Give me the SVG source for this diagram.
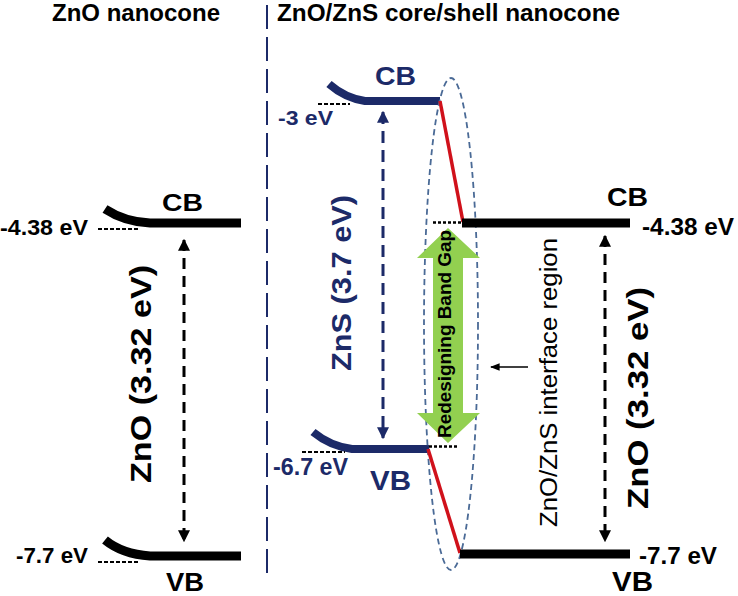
<svg xmlns="http://www.w3.org/2000/svg" width="738" height="596" viewBox="0 0 738 596">
<defs>
<style>
text{font-family:"Liberation Sans",Arial,sans-serif;font-weight:bold;fill:#000}
.nv{fill:#1c2a68}
.reg{font-weight:normal}
.bar{fill:none;stroke:#000;stroke-width:9}
.nbar{fill:none;stroke:#1c2a68;stroke-width:8}
.dash{fill:none;stroke:#000;stroke-width:2;stroke-dasharray:4 2}
.red{fill:none;stroke:#d0111b;stroke-width:3.5}
.arr{fill:none;stroke:#000;stroke-width:3;stroke-dasharray:11 7}
.narr{fill:none;stroke:#1c2a68;stroke-width:3;stroke-dasharray:12 7}
</style>
<marker id="ah" viewBox="0 0 10 10" refX="9" refY="5" markerWidth="4" markerHeight="4" orient="auto-start-reverse"><path d="M0,0 L10,5 L0,10 z" fill="#000"/></marker>
<marker id="nah" viewBox="0 0 10 10" refX="9" refY="5" markerWidth="4" markerHeight="4" orient="auto-start-reverse"><path d="M0,0 L10,5 L0,10 z" fill="#1c2a68"/></marker>
<marker id="sah" viewBox="0 0 10 10" refX="9" refY="5" markerWidth="6" markerHeight="6" orient="auto"><path d="M0,1 L10,5 L0,9 z" fill="#000"/></marker>
</defs>
<g id="titles">
<text x="52" y="21" font-size="23" textLength="168" lengthAdjust="spacingAndGlyphs">ZnO nanocone</text>
<text x="277" y="21" font-size="23" textLength="343" lengthAdjust="spacingAndGlyphs">ZnO/ZnS core/shell nanocone</text>
</g>
<g id="divider"><line x1="267" y1="5" x2="267" y2="580" stroke="#1c2a68" stroke-width="2" stroke-dasharray="24 8"/></g>
<g id="zno-left">
<path class="bar" d="M105,209 Q125,222 150,223 L241,223"/>
<path class="dash" d="M98,229 H138"/>
<text x="162" y="211" font-size="24" textLength="41" lengthAdjust="spacingAndGlyphs">CB</text>
<text x="0" y="235" font-size="22" textLength="88" lengthAdjust="spacingAndGlyphs">-4.38 eV</text>
<path class="bar" d="M105,540 Q122,554 150,556 L241,556"/>
<path class="dash" d="M98,562 H138"/>
<text x="16" y="563" font-size="22" textLength="72" lengthAdjust="spacingAndGlyphs">-7.7 eV</text>
<text x="166" y="591" font-size="26" textLength="38" lengthAdjust="spacingAndGlyphs">VB</text>
<text transform="translate(151,374) rotate(-90)" text-anchor="middle" font-size="29" textLength="218" lengthAdjust="spacingAndGlyphs">ZnO (3.32 eV)</text>
</g>
<g id="zns-shell">
<path class="nbar" d="M329,84 Q345,98 365,101 L440,101"/>
<path class="dash" d="M318,104 H350"/>
<text class="nv" x="375" y="85" font-size="26" textLength="41" lengthAdjust="spacingAndGlyphs">CB</text>
<text class="nv" x="278" y="125" font-size="20" textLength="55" lengthAdjust="spacingAndGlyphs">-3 eV</text>
<path class="nbar" d="M313,432 Q330,446 352,449 L429,449"/>
<path class="dash" d="M302,452 H345"/>
<text class="nv" x="273" y="475" font-size="23" textLength="75" lengthAdjust="spacingAndGlyphs">-6.7 eV</text>
<text class="nv" x="370" y="490" font-size="28" textLength="41" lengthAdjust="spacingAndGlyphs">VB</text>
<text class="nv" transform="translate(351,283) rotate(-90)" text-anchor="middle" font-size="27" textLength="176" lengthAdjust="spacingAndGlyphs">ZnS (3.7 eV)</text>
</g>
<g id="interface">
<ellipse cx="451" cy="324" rx="27" ry="246" fill="none" stroke="#4a6a96" stroke-width="1.8" stroke-dasharray="6 4"/>
<path class="red" d="M440,101 L463,222"/>
<path class="red" d="M428,449 L460,553"/>
<path d="M433,222.5 H461" fill="none" stroke="#000" stroke-width="2.5" stroke-dasharray="3 2"/>
<path d="M429,446.5 H457" fill="none" stroke="#000" stroke-width="2.5" stroke-dasharray="3 2"/>
<polygon points="448,228 480,258 463,258 463,413 480,413 448,443 417,413 433,413 433,258 417,258" fill="#92d050"/>
<text transform="translate(451,334) rotate(-90)" text-anchor="middle" font-size="18" textLength="208" lengthAdjust="spacingAndGlyphs">Redesigning Band Gap</text>
<text class="reg" transform="translate(557,382.5) rotate(-90)" text-anchor="middle" font-size="23" textLength="289" lengthAdjust="spacingAndGlyphs">ZnO/ZnS interface region</text>
</g>
<g id="zno-right">
<path class="bar" d="M462,223 H630"/>
<path class="bar" d="M460,554 H630"/>
<text x="607" y="206" font-size="26" textLength="41" lengthAdjust="spacingAndGlyphs">CB</text>
<text x="642" y="235" font-size="23" textLength="92" lengthAdjust="spacingAndGlyphs">-4.38 eV</text>
<text x="639" y="564" font-size="23" textLength="78" lengthAdjust="spacingAndGlyphs">-7.7 eV</text>
<text x="612" y="591" font-size="27" textLength="41" lengthAdjust="spacingAndGlyphs">VB</text>
<text transform="translate(648,398) rotate(-90)" text-anchor="middle" font-size="29" textLength="222" lengthAdjust="spacingAndGlyphs">ZnO (3.32 eV)</text>
</g>
<g id="connectors">
<line class="arr" x1="184" y1="240" x2="184" y2="541" marker-start="url(#ah)" marker-end="url(#ah)"/>
<line class="narr" x1="383" y1="112" x2="383" y2="438" marker-start="url(#nah)" marker-end="url(#nah)"/>
<line class="arr" x1="605" y1="236" x2="605" y2="541" marker-start="url(#ah)" marker-end="url(#ah)"/>
<line x1="528" y1="367" x2="491" y2="367" stroke="#000" stroke-width="1.6" marker-end="url(#sah)"/>
</g>
</svg>
